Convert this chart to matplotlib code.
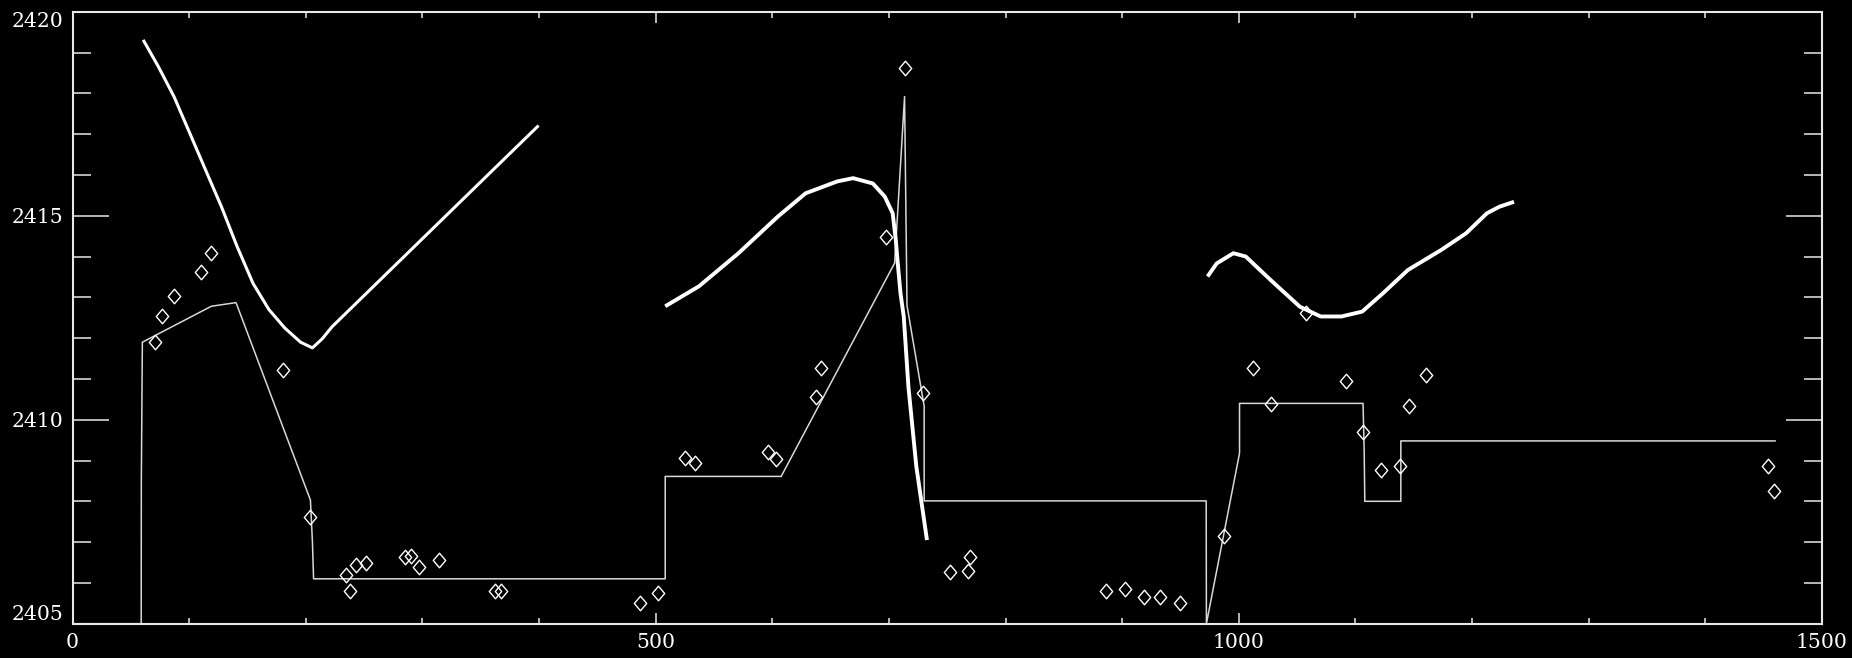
import matplotlib
matplotlib.use("Agg")
import matplotlib.pyplot as plt
from matplotlib.path import Path
from matplotlib.ticker import MultipleLocator

# ---- measured frequencies (diamonds) ----
obs_x = [70.7, 76.8, 87.0, 110.1, 118.6, 180.6, 204.0, 234.5, 237.5, 243.0,
         251.5, 284.7, 290.4, 297.2, 314.2, 362.6, 367.7, 486.2, 502.4, 525.2,
         534.0, 596.3, 603.5, 637.1, 642.1, 697.1, 713.4, 729.2, 752.0, 768.2,
         769.9, 886.2, 902.5, 919.1, 932.0, 949.7, 987.0, 1012.3, 1028.0, 1057.6,
         1091.8, 1106.8, 1121.5, 1137.9, 1145.7, 1160.7, 1453.4, 1458.7]
obs_y = [2411.90, 2412.54, 2413.03, 2413.63, 2414.08, 2411.21, 2407.62, 2406.19, 2405.80, 2406.44,
         2406.48, 2406.63, 2406.66, 2406.38, 2406.55, 2405.80, 2405.80, 2405.51, 2405.75, 2409.06,
         2408.95, 2409.20, 2409.03, 2410.56, 2411.26, 2414.47, 2418.61, 2410.65, 2406.27, 2406.30,
         2406.63, 2405.80, 2405.86, 2405.66, 2405.66, 2405.51, 2407.16, 2411.26, 2410.38, 2412.61,
         2410.95, 2409.71, 2408.76, 2408.87, 2410.33, 2411.09, 2408.86, 2408.25]

# ---- piecewise model (thin line) ----
model_x = [0, 58.9, 59.0, 59.9, 119.0, 140.2, 204.0, 205.7, 206.7, 508.2,
           508.2, 607.6, 704.9, 713.4, 715.5, 730.2, 730.2, 972.0, 972.2, 1000.6,
           1000.6, 1106.5, 1107.5, 1108.0, 1138.9, 1138.9, 1459.8]
model_y = [2405.0, 2405.0, 2408.44, 2411.90, 2412.78, 2412.87, 2408.03, 2407.01, 2406.10, 2406.10,
           2408.61, 2408.61, 2413.84, 2417.92, 2412.80, 2410.33, 2408.01, 2408.01, 2405.0, 2409.18,
           2410.40, 2410.40, 2409.18, 2408.00, 2408.00, 2409.48, 2409.48]

# ---- smooth tracks (thick lines) ----
track1_x = [60.6, 73.5, 87.0, 100.6, 114.1, 127.7, 141.2, 154.8, 168.4, 181.9,
            195.5, 205.7, 214.0, 222.6, 399.6]
track1_y = [2419.31, 2418.66, 2417.92, 2417.02, 2416.12, 2415.22, 2414.24, 2413.34, 2412.70, 2412.25,
            2411.90, 2411.76, 2411.98, 2412.28, 2417.21]

track2_x = [508.2, 537.1, 571.0, 604.8, 628.6, 655.7, 669.3, 686.2, 696.4, 703.2,
            705.9, 707.3, 709.9, 712.7, 716.7, 723.5, 732.6]
track2_y = [2412.78, 2413.27, 2414.08, 2414.98, 2415.55, 2415.84, 2415.92, 2415.79, 2415.47, 2415.06,
            2414.40, 2413.92, 2413.10, 2412.53, 2410.81, 2408.85, 2407.05]

track3_x = [973.2, 981.0, 995.3, 1005.9, 1027.4, 1052.3, 1070.1, 1088.0, 1105.8, 1123.6,
            1145.0, 1173.5, 1194.9, 1212.7, 1223.4, 1235.9]
track3_y = [2413.51, 2413.83, 2414.08, 2414.00, 2413.42, 2412.77, 2412.53, 2412.53, 2412.65, 2413.10,
            2413.67, 2414.16, 2414.57, 2415.06, 2415.22, 2415.34]

x_ticks = [0, 500, 1000, 1500]
y_ticks = [2405, 2410, 2415, 2420]

plt.rcParams['font.family'] = ['DejaVu Serif']
plt.rcParams['font.size'] = 14.7

W, H = 1852, 658
fig = plt.figure(figsize=(W / 100, H / 100), dpi=100, facecolor='black')
ax = fig.add_axes([72.5 / W, (H - 623.7) / H, (1822 - 72.5) / W, (623.7 - 11.7) / H])
ax.set_facecolor('black')

fg = '#e8e8e8'

# diamond outline, a little taller than wide
diamond = Path([(0, 1), (0.85, 0), (0, -1), (-0.85, 0), (0, 1)],
               [Path.MOVETO, Path.LINETO, Path.LINETO, Path.LINETO, Path.CLOSEPOLY])

ax.plot(model_x, model_y, color='#d8d8d8', lw=1.1, zorder=2)
ax.plot(track1_x, track1_y, color='white', lw=2.2, zorder=3, solid_capstyle='butt')
ax.plot(track2_x, track2_y, color='white', lw=2.8, zorder=3, solid_capstyle='butt')
ax.plot(track3_x, track3_y, color='white', lw=2.8, zorder=3, solid_capstyle='butt')
ax.plot(obs_x, obs_y, linestyle='none', marker=diamond, markersize=10.5,
        markerfacecolor='none', markeredgecolor='white', markeredgewidth=1.0, zorder=4)

ax.set_xlim(0, 1500)
ax.set_ylim(2405, 2420)
ax.set_xticks(x_ticks)
ax.set_yticks(y_ticks)
ax.set_xticklabels([str(v) for v in x_ticks])
ax.set_yticklabels([str(v) for v in y_ticks])
ax.xaxis.set_minor_locator(MultipleLocator(100))
ax.yaxis.set_minor_locator(MultipleLocator(1))

for s in ax.spines.values():
    s.set_color(fg)
    s.set_linewidth(1.5)

ax.tick_params(which='both', direction='in', top=True, right=True,
               color=fg, labelcolor='white', width=1.1)
ax.tick_params(axis='x', which='major', length=8, pad=6.5)
ax.tick_params(axis='x', which='minor', length=4)
ax.tick_params(axis='y', which='major', length=26, pad=6.5)
ax.tick_params(axis='y', which='minor', length=13)

ylabels = ax.get_yticklabels()
ylabels[0].set_va('bottom')
ylabels[-1].set_va('top')

fig.savefig('out.png', dpi=100, facecolor='black')
